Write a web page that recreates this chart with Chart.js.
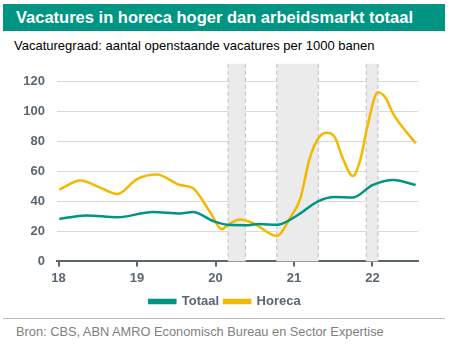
<!doctype html>
<html lang="nl">
<head>
<meta charset="utf-8">
<script src="https://cdn.jsdelivr.net/npm/chart.js"></script>
<style>
  body { margin: 0; width: 450px; height: 351px; background: #fff; font-family: "Liberation Sans", Arial, sans-serif; position: relative; overflow: hidden; }
  .banner { position: absolute; left: 3px; top: 4px; width: 442px; height: 27px; background: #009483; color: #fff; font-weight: bold; font-size: 16.5px; line-height: 27px; padding-left: 13px; box-sizing: border-box; white-space: nowrap; }
  .sub { position: absolute; left: 14px; top: 38px; font-size: 13px; color: #000; white-space: nowrap; }
  .chartbox { position: absolute; left: 0; top: 44px; width: 450px; height: 274px; }
  .rule { position: absolute; left: 3px; top: 318px; width: 442px; height: 1px; background: #bdbdbd; }
  .src { position: absolute; left: 16px; top: 324px; font-size: 12.8px; color: #808080; white-space: nowrap; }
</style>
</head>
<body>
<div class="banner">Vacatures in horeca hoger dan arbeidsmarkt totaal</div>
<div class="sub">Vacaturegraad: aantal openstaande vacatures per 1000 banen</div>
<div class="chartbox"><canvas id="chart"></canvas></div>
<div class="rule"></div>
<div class="src">Bron: CBS, ABN AMRO Economisch Bureau en Sector Expertise</div>

<script>
// values (year as decimal)
const totaalYears  = [2018.01, 2018.35, 2018.75, 2019.2, 2019.55, 2019.71, 2019.98, 2020.15, 2020.42, 2020.55, 2020.78, 2021.05, 2021.3, 2021.52, 2021.75, 2022.0, 2022.27, 2022.55];
const totaalValues = [28.4, 30.7, 29.5, 33, 32, 33, 26.7, 24.5, 24.2, 25, 24.4, 31, 40, 43, 42.7, 51, 54.4, 51];

const horecaYears  = [2018.01, 2018.28, 2018.5, 2018.75, 2019.0, 2019.25, 2019.55, 2019.71, 2019.93, 2020.08, 2020.16, 2020.31, 2020.48, 2020.78, 2020.95, 2021.08, 2021.2, 2021.32, 2021.42, 2021.52, 2021.62, 2021.75, 2021.85, 2021.93, 2022.07, 2022.17, 2022.27, 2022.55];
const horecaValues = [48, 54, 50, 45, 55, 58, 51, 49, 33, 21.5, 24.5, 28, 25.5, 17, 29, 42, 69, 83, 86, 83, 69, 57, 69, 89, 113, 109, 98, 79];

// grey shaded periods
const shadeStart = [2020.16, 2020.78, 2021.92];
const shadeEnd   = [2020.38, 2021.31, 2022.07];

const xTicks = [2018, 2019, 2020, 2021, 2022];
const yTicks = [0, 20, 40, 60, 80, 100, 120];

const tickColor = '#5b6670';

const shadePlugin = {
  id: 'shade',
  beforeDatasetsDraw(chart) {
    const {ctx, chartArea, scales} = chart;
    ctx.save();
    for (let i = 0; i < shadeStart.length; i++) {
      const x1 = scales.x.getPixelForValue(shadeStart[i]);
      const x2 = scales.x.getPixelForValue(shadeEnd[i]);
      ctx.fillStyle = '#ebebeb';
      ctx.fillRect(x1, chartArea.top, x2 - x1, chartArea.bottom - chartArea.top);
      ctx.strokeStyle = '#bdbdbd';
      ctx.lineWidth = 1;
      ctx.setLineDash([4, 3]);
      ctx.beginPath();
      ctx.moveTo(x1, chartArea.top); ctx.lineTo(x1, chartArea.bottom);
      ctx.moveTo(x2, chartArea.top); ctx.lineTo(x2, chartArea.bottom);
      ctx.stroke();
    }
    ctx.restore();
  }
};

new Chart(document.getElementById('chart'), {
  type: 'line',
  data: {
    datasets: [
      {
        label: 'Totaal',
        data: totaalYears.map((x, i) => ({x: x, y: totaalValues[i]})),
        borderColor: '#009483',
        backgroundColor: '#009483',
        borderWidth: 2.5,
        pointRadius: 0,
        cubicInterpolationMode: 'monotone'
      },
      {
        label: 'Horeca',
        data: horecaYears.map((x, i) => ({x: x, y: horecaValues[i]})),
        borderColor: '#f5b800',
        backgroundColor: '#f5b800',
        borderWidth: 2.5,
        pointRadius: 0,
        cubicInterpolationMode: 'monotone'
      }
    ]
  },
  options: {
    responsive: true,
    maintainAspectRatio: false,
    animation: false,
    plugins: {
      tooltip: { enabled: false },
      legend: {
        position: 'bottom',
        labels: {
          boxWidth: 26,
          boxHeight: 3,
          padding: 5,
          color: tickColor,
          font: { family: 'Liberation Sans', size: 13, weight: 'bold' }
        }
      }
    },
    scales: {
      x: {
        type: 'linear',
        min: 2017.98,
        max: 2022.58,
        afterBuildTicks: s => { s.ticks = xTicks.map(v => ({value: v})); },
        ticks: {
          color: tickColor,
          padding: 4,
          maxRotation: 0,
          font: { family: 'Liberation Sans', size: 13, weight: 'bold' },
          callback: v => String(v).slice(2)
        },
        grid: { drawOnChartArea: false, drawTicks: true, tickLength: 5, color: tickColor, lineWidth: 2 },
        border: { color: tickColor, width: 2 }
      },
      y: {
        min: 0,
        max: 132,
        afterBuildTicks: s => { s.ticks = yTicks.map(v => ({value: v})); },
        afterFit: s => { s.width = 57; },
        ticks: {
          color: tickColor,
          padding: 12,
          font: { family: 'Liberation Sans', size: 13, weight: 'bold' }
        },
        grid: { color: '#d9d9d9', lineWidth: 1, drawTicks: false },
        border: { display: false }
      },
      // empty right-hand strip so the plot stops at the same place as the original
      yr: {
        position: 'right',
        min: 0,
        max: 132,
        afterFit: s => { s.width = 32; },
        ticks: { display: false },
        grid: { display: false, drawTicks: false },
        border: { display: false }
      }
    }
  },
  plugins: [shadePlugin]
});
</script>
</body>
</html>
